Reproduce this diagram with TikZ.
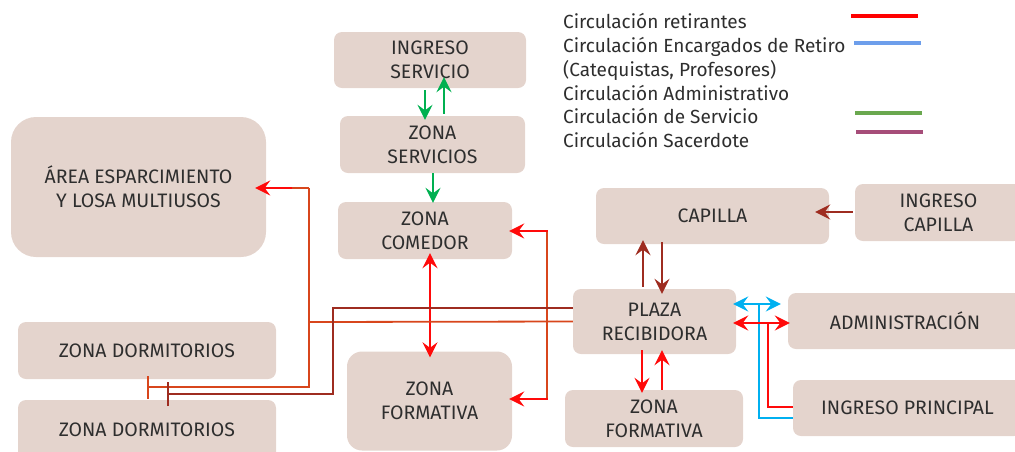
\documentclass[tikz,border=0pt]{standalone}
\usepackage{fontspec}
\setmainfont{Fira Sans}
\usetikzlibrary{arrows.meta,calc}
\definecolor{boxfill}{HTML}{E4D4CD}
\definecolor{txt}{HTML}{2E2E2E}
\definecolor{cred}{HTML}{FF0A0A}
\definecolor{corange}{HTML}{D8461C}
\definecolor{cbrown}{HTML}{9E2C20}
\definecolor{cgreen}{HTML}{00B050}
\definecolor{cblue}{HTML}{00B0F0}
\definecolor{lgred}{HTML}{FF0000}
\definecolor{lgblue}{HTML}{6D9EEB}
\definecolor{lggreen}{HTML}{6AA84F}
\definecolor{lgpurple}{HTML}{A64D79}
\tikzset{
  Hd/.tip={Stealth[length=15pt,width=15pt,inset=5.5pt]},
  box/.style={fill=boxfill, rounded corners=8pt, align=center, text=txt,
    font=\fontsize{19.5}{24}\selectfont, inner sep=0pt},
  lgtext/.style={anchor=base west, text=txt, font=\fontsize{19}{24}\selectfont, inner sep=0pt},
  lgline/.style={line width=3.8pt},
  redline/.style={draw=cred, line width=1.8pt},
  orangeline/.style={draw=corange, line width=1.8pt},
  brownline/.style={draw=cbrown, line width=1.8pt},
  greenline/.style={draw=cgreen, line width=1.8pt},
  blueline/.style={draw=cblue, line width=1.8pt},
}
\begin{document}
\begin{tikzpicture}[x=1pt,y=-1pt]
\useasboundingbox (0,0) rectangle (1015,451);
\clip (0,0) rectangle (1015,451);

% boxes
\node[box, minimum width=192pt, minimum height=56pt] (isvc) at (430,60) {INGRESO\\SERVICIO};
\node[box, minimum width=185pt, minimum height=57pt] (zsvc) at (432.5,144.5) {ZONA\\SERVICIOS};
\node[box, minimum width=174pt, minimum height=57pt] (comedor) at (425,230.5) {ZONA\\COMEDOR};
\node[box, minimum width=165pt, minimum height=99pt, rounded corners=15pt] (formC) at (429.5,401) {ZONA\\FORMATIVA};
\node[box, minimum width=255pt, minimum height=140pt, rounded corners=25pt] (area) at (138.5,187) {ÁREA ESPARCIMIENTO\\Y LOSA MULTIUSOS};
\node[box, minimum width=258pt, minimum height=57pt] (dorm1) at (147,350.5) {ZONA DORMITORIOS};
\node[box, minimum width=258pt, minimum height=60pt] (dorm2) at (147,430) {ZONA DORMITORIOS};
\node[box, minimum width=233pt, minimum height=56pt] (capilla) at (712.5,216) {CAPILLA};
\node[box, minimum width=167pt, minimum height=57pt] (icap) at (938.5,212.5) {INGRESO\\CAPILLA};
\node[box, minimum width=163pt, minimum height=65pt] (plaza) at (654.5,321.5) {PLAZA\\RECIBIDORA};
\node[box, minimum width=234pt, minimum height=56pt] (admin) at (905,321) {ADMINISTRACIÓN};
\node[box, minimum width=178pt, minimum height=57pt] (formR) at (654,418.5) {ZONA\\FORMATIVA};
\node[box, minimum width=229pt, minimum height=56pt] (iprin) at (907.5,408) {INGRESO PRINCIPAL};

% legend
\node[lgtext] (lg1) at (563,28) {Circulación retirantes};
\node[lgtext] (lg2) at (563,52) {Circulación Encargados de Retiro};
\node[lgtext] (lg3) at (563,76) {(Catequistas, Profesores)};
\node[lgtext] (lg4) at (563,100) {Circulación Administrativo};
\node[lgtext] (lg5) at (563,123.5) {Circulación de Servicio};
\node[lgtext] (lg6) at (563,147) {Circulación Sacerdote};
\draw[lgline, lgred] (851,16) -- (918,16);
\draw[lgline, lgblue] (854,43) -- (921,43);
\draw[lgline, lggreen] (855,113) -- (922,113);
\draw[lgline, lgpurple] (856,132) -- (923,132);

% green service circulation
\draw[greenline, -Hd] ($(isvc.south)+(-5,2)$) -- ($(zsvc.north)+(-7.5,4)$);
\draw[greenline, -Hd] ($(zsvc.north)+(11.5,-2)$) -- ($(isvc.south)+(14,-11)$);
\draw[greenline, -Hd] ($(zsvc.south)+(0.5,0)$) -- ($(comedor.north)+(8,1)$);

% red comedor <-> formativa
\draw[redline, Hd-Hd] ($(comedor.south)+(5,-6)$) -- ($(formC.north)+(0.5,6)$);
\coordinate (rloop) at (547,315);
\draw[redline, Hd-Hd] ($(comedor.east)+(-3,0.5)$) -| (rloop) |- ($(formC.east)+(-3,-2)$);
\draw[orangeline] (547,232) -- (547,398);

% orange line plaza -> area / dormitorios
\coordinate (ojct) at (309,322);
\coordinate (otop) at (309,188);
\coordinate (ostub) at (292,188);
\coordinate (obot) at (309,387);
\coordinate (obar) at (147,387);
\draw[orangeline] (plaza.west) -- (ojct);
\draw[orangeline, -{Bar[width=23pt,line width=1.8pt]}] (otop) -- (obot) -- (obar);
\draw[orangeline] (otop) -- (ostub);
\draw[redline, -Hd] (ostub) -- ($(area.east)+(-11,1)$);

% brown line plaza -> dormitorios
\coordinate (bcorner) at (333,308);
\coordinate (bbot) at (333,394);
\coordinate (bbar) at (167,394);
\draw[brownline, -{Bar[width=24pt,line width=1.8pt]}] ($(plaza.west)+(0,-13.5)$) -- (bcorner) -- (bbot) -- (bbar);

% brown capilla <-> plaza
\draw[brownline, -Hd] ($(plaza.north)+(-11.5,-2)$) -- ($(capilla.south)+(-69.5,-4)$);
\draw[brownline, -Hd] ($(capilla.south)+(-50.5,-2)$) -- ($(plaza.north)+(7.5,5)$);
\draw[brownline, -Hd] ($(icap.west)+(-2,-0.5)$) -- ($(capilla.east)+(-14,-4)$);

% red plaza <-> formativa right
\draw[redline, -Hd] ($(plaza.south)+(-12.5,-4)$) -- ($(formR.north)+(-12,3)$);
\draw[redline, -Hd] ($(formR.north)+(8,0)$) -- ($(plaza.south)+(7.5,-4)$);

% blue encargados
\coordinate (bjoin) at (759,304);
\draw[blueline, Hd-Hd] ($(plaza.east)+(-3,-17.5)$) -- ($(admin.west)+(-7,-17)$);
\draw[blueline] ($(iprin.west)+(0,10)$) -| (bjoin);

% red ingreso principal
\coordinate (rjoin) at (768,323);
\draw[redline, Hd-Hd] ($(plaza.east)+(-3,1.5)$) -- ($(admin.west)+(2,2)$);
\draw[redline] ($(iprin.west)+(0,-1)$) -| (rjoin);
\end{tikzpicture}
\end{document}
